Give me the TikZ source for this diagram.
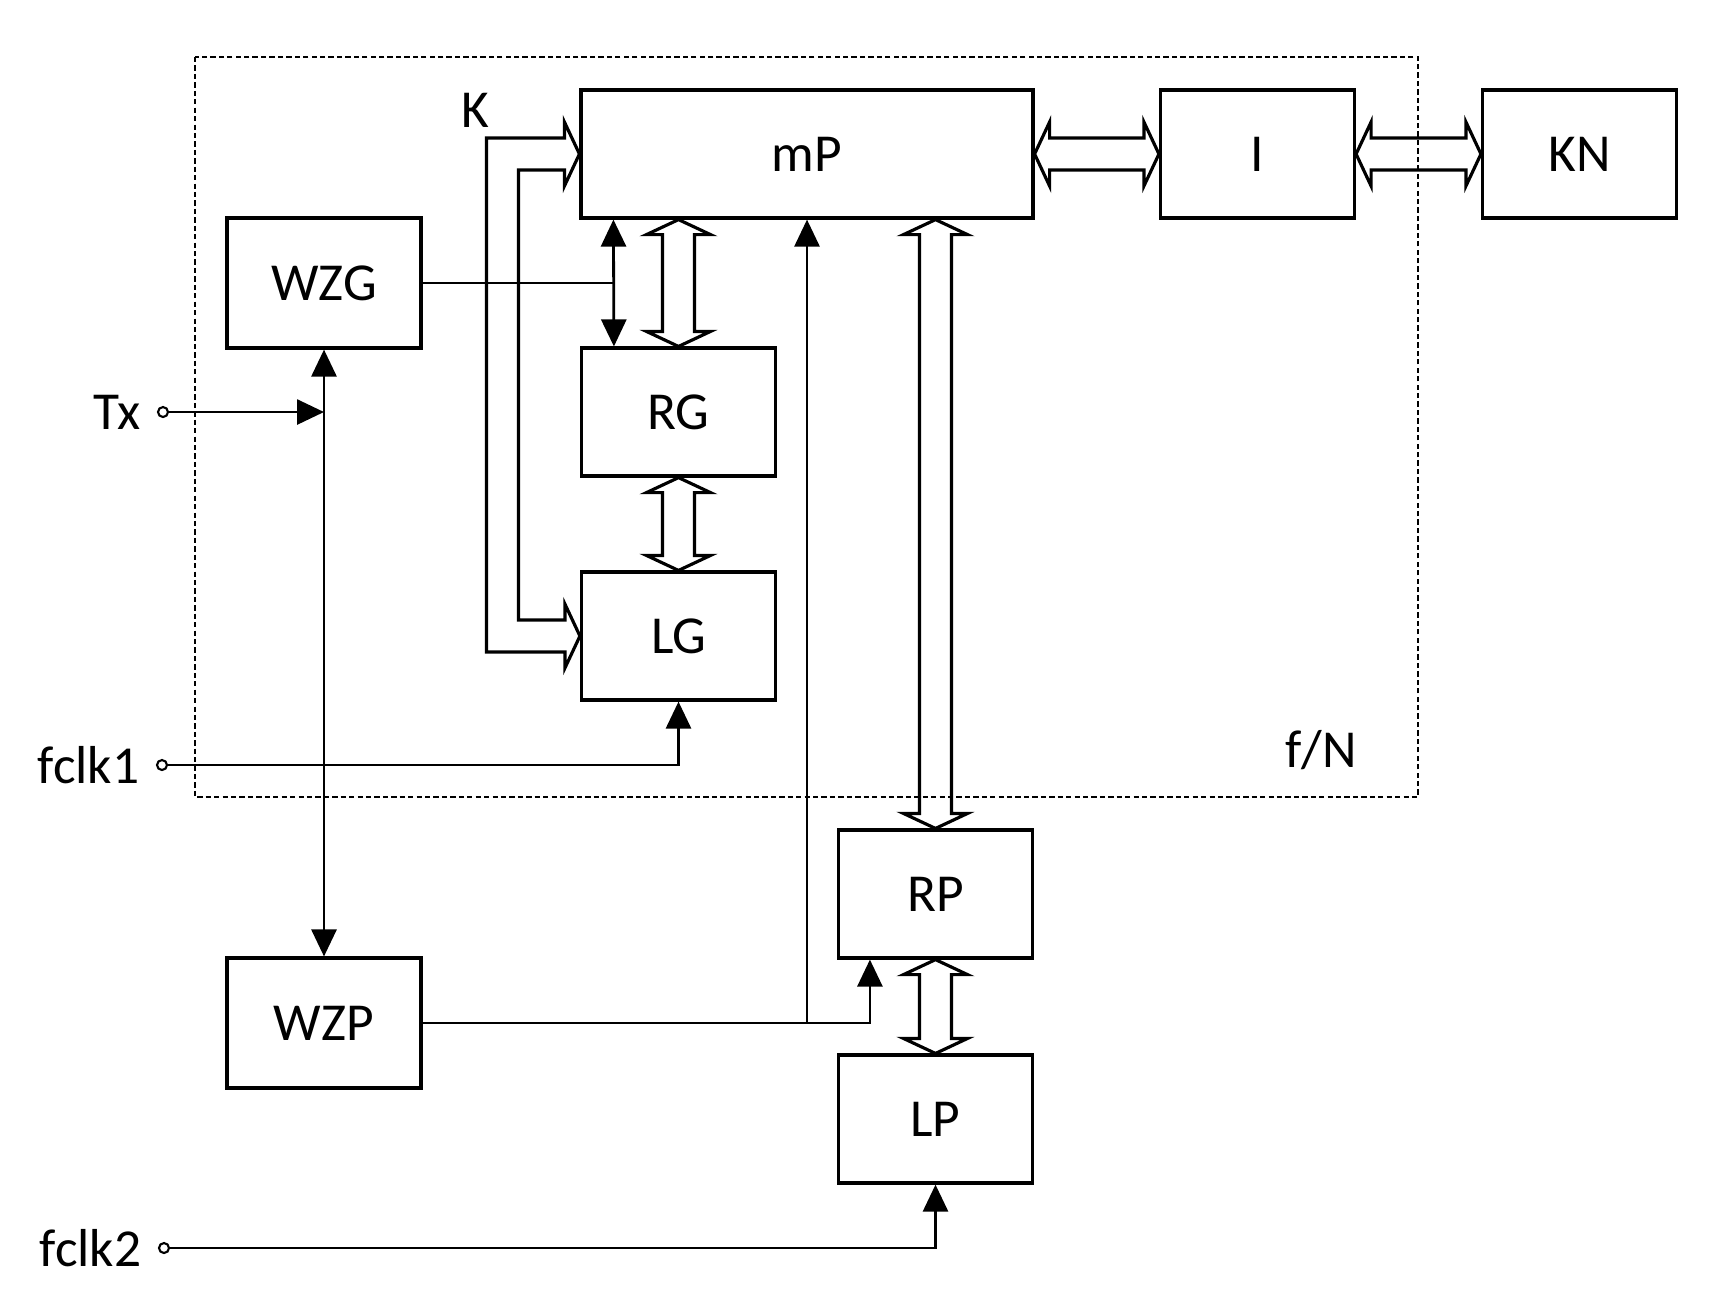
\documentclass[tikz,border=0pt]{standalone}
\usepackage{fontspec}
\setmainfont{Carlito}
\usepackage{tikz}
\usetikzlibrary{arrows.meta,positioning,calc}

% sizes of the hollow bus arrows
\newcommand{\busS}{0.16cm}
\newcommand{\busH}{0.32cm}
\newcommand{\busL}{0.15cm}

% vertical hollow double arrow
\newcommand{\vbus}[2]{%
  \draw[bus] let \p1=(#1), \p2=(#2) in
    (\x1,\y1) -- (\x1+\busH,\y1-\busL) -- (\x1+\busS,\y1-\busL) -- (\x1+\busS,\y2+\busL)
    -- (\x1+\busH,\y2+\busL) -- (\x1,\y2) -- (\x1-\busH,\y2+\busL) -- (\x1-\busS,\y2+\busL)
    -- (\x1-\busS,\y1-\busL) -- (\x1-\busH,\y1-\busL) -- cycle;}
% horizontal hollow double arrow
\newcommand{\hbus}[2]{%
  \draw[bus] let \p1=(#1), \p2=(#2) in
    (\x1,\y1) -- (\x1+\busL,\y1+\busH) -- (\x1+\busL,\y1+\busS) -- (\x2-\busL,\y1+\busS)
    -- (\x2-\busL,\y1+\busH) -- (\x2,\y1) -- (\x2-\busL,\y1-\busH) -- (\x2-\busL,\y1-\busS)
    -- (\x1+\busL,\y1-\busS) -- (\x1+\busL,\y1-\busH) -- cycle;}

\tikzset{
  blk/.style={draw, line width=0.9pt, minimum width=1.94cm, minimum height=1.28cm, inner sep=0pt,
    font=\fontsize{15.2}{18}\selectfont},
  lbl/.style={inner sep=0pt, font=\fontsize{15.2}{18}\selectfont},
  port/.style={draw, circle, line width=0.6pt, minimum size=0.1cm, inner sep=0pt},
  sig/.style={line width=0.8pt, >={Triangle[length=0.27cm,width=0.25cm]}},
  bus/.style={line width=0.9pt},
  frame/.style={line width=0.6pt, dash pattern=on 1.5pt off 0.9pt}
}

\begin{document}
\begin{tikzpicture}
    \useasboundingbox (0,0) rectangle (17.21,-13.12);
    \draw[frame] (1.95,-0.57) rectangle (14.18,-7.97);
    \node[lbl] (fN) at (13.21,-7.50) {f/N};

    % blocks
    \node[blk, minimum width=4.52cm] (mP) at (8.07,-1.54) {mP};
    \node[blk] (I) at (12.575,-1.54) {I};
    \node[blk] (KN) at (15.795,-1.54) {KN};
    \node[blk, minimum height=1.3cm] (WZG) at (3.24,-2.83) {WZG};
    \node[blk] (RG) at (6.785,-4.12) {RG};
    \node[blk] (LG) at (6.785,-6.36) {LG};
    \node[blk] (RP) at (9.355,-8.94) {RP};
    \node[blk] (LP) at (9.355,-11.19) {LP};
    \node[blk, minimum height=1.3cm] (WZP) at (3.24,-10.23) {WZP};

    % inputs
    \node[port] (tx) at (1.63,-4.12) {};
    \node[port] (fc1) at (1.62,-7.65) {};
    \node[port] (fc2) at (1.64,-12.48) {};
    \node[lbl, left=0.16cm of tx] (txl) {Tx};
    \node[lbl, left=0.16cm of fc1] (fc1l) {fclk1};
    \node[lbl, left=0.16cm of fc2] (fc2l) {fclk2};
    \node[lbl] (K) at (4.75,-1.10) {K};

    % buses
    \hbus{mP.east}{I.west}
    \hbus{I.east}{KN.west}
    \vbus{RG.north |- mP.south}{RG.north}
    \vbus{RG.south}{LG.north}
    \vbus{RP.north |- mP.south}{RP.north}
    \vbus{RP.south}{LP.north}
    \draw[bus] let \p1=(mP.west), \p2=(LG.west), \p3=($(mP.west)+(-0.77,0)$) in
      (\x1,\y1) -- (\x1-\busL,\y1+\busH) -- (\x1-\busL,\y1+\busS) -- (\x3-\busS,\y1+\busS)
      -- (\x3-\busS,\y2-\busS) -- (\x2-\busL,\y2-\busS) -- (\x2-\busL,\y2-\busH) -- (\x2,\y2)
      -- (\x2-\busL,\y2+\busH) -- (\x2-\busL,\y2+\busS) -- (\x3+\busS,\y2+\busS)
      -- (\x3+\busS,\y1-\busS) -- (\x1-\busL,\y1-\busS) -- (\x1-\busL,\y1-\busH) -- cycle;

    % signal lines
    \coordinate (busA) at ($(mP.south west)+(0.34,0)$);
    \coordinate (busB) at ($(RG.north west)+(0.34,0)$);
    \draw[sig,<->] (busA) -- (busB);
    \draw[sig] (WZG.east) -- (WZG.east -| busA);
    \draw[sig,<->] (WZG.south) -- (WZP.north);
    \coordinate (txj) at (WZG.south |- tx);
    \draw[sig,->] (tx) -- (txj);
    \coordinate (rpin) at ($(RP.south west)+(0.33,0)$);
    \coordinate (wzpj) at (mP.south |- WZP.east);
    \draw[sig,->] (WZP.east) -| (rpin);
    \draw[sig,->] (wzpj) -- (mP.south);
    \draw[sig,->] (fc1) -| (LG.south);
    \draw[sig,->] (fc2) -| (LP.south);
\end{tikzpicture}
\end{document}
